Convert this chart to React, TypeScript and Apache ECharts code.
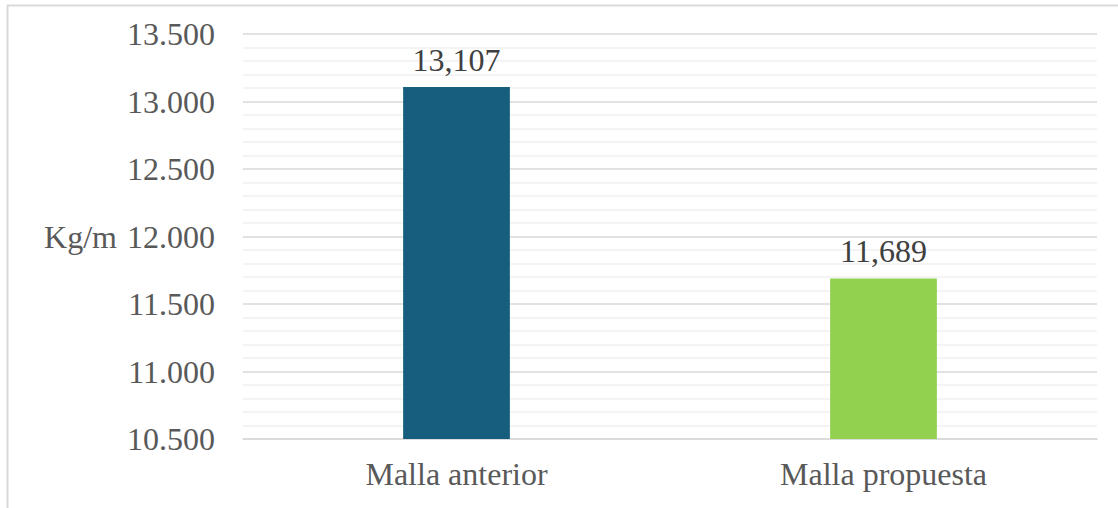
import React, { useEffect, useRef } from "react";
import * as echarts from "echarts";

// Weight per metre for each mesh design
const categories = ["Malla anterior", "Malla propuesta"];
const weights = [13.107, 11.689];
const barColors = ["#175E7E", "#92D050"];

// Value axis range and step
const yMin = 10.5;
const yMax = 13.5;
const yStep = 0.5;
const axisName = "Kg/m";

const FONT = "'Liberation Serif', 'Times New Roman', serif";
const SIZE = 32;

export default function App() {
  const ref = useRef<HTMLDivElement>(null);

  useEffect(() => {
    if (!ref.current) return;
    const chart = echarts.init(ref.current, undefined, { renderer: "svg" });
    chart.setOption({
      animation: false,
      backgroundColor: "#ffffff",
      textStyle: { fontFamily: FONT },
      graphic: [
        {
          type: "rect",
          left: 5,
          top: 3,
          shape: { x: 0, y: 0, width: 1200, height: 600 },
          style: { fill: "none", stroke: "#d9d9d9", lineWidth: 2 },
          silent: true,
        },
      ],
      grid: { left: 243, right: 21, top: 34, bottom: 69 },
      xAxis: {
        type: "category",
        data: categories,
        axisLine: { show: true, lineStyle: { color: "#d9d9d9", width: 1.5 } },
        axisTick: { show: false },
        axisLabel: { color: "#595959", fontSize: SIZE, fontFamily: FONT, margin: 19 },
      },
      yAxis: {
        type: "value",
        min: yMin,
        max: yMax,
        interval: yStep,
        name: axisName,
        nameLocation: "middle",
        nameRotate: 0,
        nameGap: 126,
        nameTextStyle: { color: "#595959", fontSize: SIZE, fontFamily: FONT, align: "right" },
        axisLine: { show: false },
        axisTick: { show: false },
        axisLabel: {
          color: "#595959",
          fontSize: SIZE,
          fontFamily: FONT,
          margin: 28,
          formatter: (v: number) => v.toFixed(3),
        },
        splitLine: { show: true, lineStyle: { color: "#d9d9d9", width: 1.5 } },
        minorTick: { show: false, splitNumber: 5 },
        minorSplitLine: { show: true, lineStyle: { color: "#f0f0f0", width: 1.5 } },
      },
      series: [
        {
          type: "bar",
          barWidth: "25%",
          data: weights.map((v, i) => ({ value: v, itemStyle: { color: barColors[i] } })),
          label: {
            show: true,
            position: "top",
            distance: 11,
            color: "#404040",
            fontSize: SIZE,
            fontFamily: FONT,
            formatter: (p: any) => Number(p.value).toFixed(3).replace(".", ","),
          },
        },
      ],
    });
    return () => chart.dispose();
  }, []);

  return (
    <div
      ref={ref}
      style={{ position: "fixed", left: 0, top: 0, width: 1118, height: 508 }}
    />
  );
}
